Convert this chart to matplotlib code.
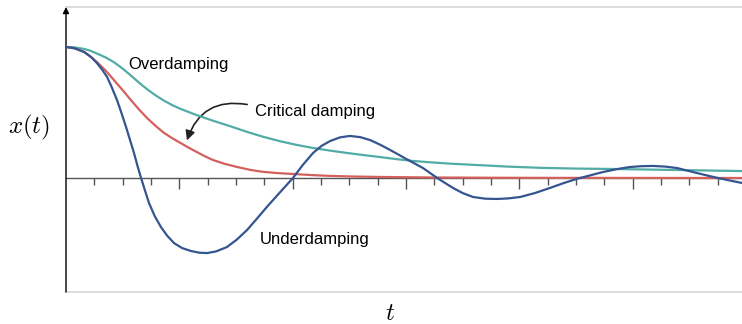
import numpy as np
import matplotlib
matplotlib.use('Agg')
import matplotlib.pyplot as plt
from matplotlib.patches import FancyArrowPatch

plt.rcParams['font.family'] = ['Liberation Sans', 'DejaVu Sans']
plt.rcParams['mathtext.fontset'] = 'cm'

# values (t in tick units, x normalised to x(0) = 1)
under_t = [0, 0.3, 0.64, 0.9, 1.09, 1.3, 1.45, 1.62, 1.80, 1.96, 2.12, 2.26, 2.40, 2.52, 2.65,
           2.79, 2.93, 3.13, 3.35, 3.57, 3.81, 4.1, 4.41, 4.7, 4.98, 5.3, 5.68, 6.03, 6.39,
           6.74, 7.09, 7.55, 8.01, 8.36, 8.72, 9.02, 9.32, 9.67, 10.02, 10.38, 10.73, 11.08,
           11.44, 11.79, 12.14, 12.6, 13.1, 13.66, 14.0, 14.37, 14.8, 15.21, 15.6, 16.03,
           16.55, 17.08, 17.55, 18.04, 18.5, 18.96, 19.45, 19.91, 20.3, 20.72, 21.15, 21.57,
           21.9, 22.27, 22.65, 23.01, 23.45, 23.86]
under_x = [1.0, 0.99, 0.962, 0.92, 0.878, 0.82, 0.771, 0.69, 0.595, 0.495, 0.389, 0.29, 0.191,
           0.095, 0.0, -0.097, -0.191, -0.29, -0.374, -0.44, -0.496, -0.535, -0.557, -0.570,
           -0.573, -0.560, -0.527, -0.47, -0.397, -0.31, -0.221, -0.11, 0.0, 0.10, 0.191,
           0.245, 0.282, 0.310, 0.321, 0.312, 0.290, 0.255, 0.214, 0.172, 0.130, 0.076, 0.0,
           -0.076, -0.115, -0.145, -0.158, -0.160, -0.156, -0.145, -0.115, -0.076, -0.04,
           -0.006, 0.02, 0.046, 0.068, 0.084, 0.090, 0.092, 0.087, 0.076, 0.058, 0.038,
           0.018, 0.0, -0.02, -0.038]

crit_t = [0, 0.3, 0.64, 0.85, 1.09, 1.4, 1.69, 2.0, 2.29, 2.57, 2.86, 3.16, 3.46, 3.76, 4.06,
          4.34, 4.62, 4.9, 5.19, 5.6, 6.04, 6.5, 6.95, 7.5, 8.15, 8.7, 9.32, 10.2, 11.08,
          12.85, 15.0, 17.08, 23.86]
crit_x = [1.0, 0.99, 0.962, 0.93, 0.885, 0.82, 0.748, 0.67, 0.595, 0.525, 0.458, 0.398, 0.344,
          0.302, 0.265, 0.23, 0.198, 0.166, 0.137, 0.108, 0.084, 0.062, 0.047, 0.037, 0.029,
          0.022, 0.016, 0.011, 0.008, 0.004, 0.002, 0.001, 0.0]

over_t = [0, 0.3, 0.64, 0.85, 1.09, 1.4, 1.69, 2.0, 2.29, 2.57, 2.86, 3.16, 3.46, 3.76, 4.06,
          4.6, 5.19, 5.8, 6.39, 6.95, 7.55, 8.13, 8.72, 9.32, 9.92, 10.5, 11.08, 11.66, 12.25,
          12.85, 13.6, 14.51, 15.6, 16.84, 18.0, 19.2, 20.4, 21.57, 22.7, 23.86]
over_x = [1.0, 0.997, 0.985, 0.972, 0.950, 0.920, 0.884, 0.835, 0.782, 0.729, 0.678, 0.631,
          0.590, 0.555, 0.526, 0.481, 0.437, 0.395, 0.352, 0.315, 0.281, 0.253, 0.229, 0.209,
          0.191, 0.175, 0.160, 0.144, 0.130, 0.120, 0.109, 0.099, 0.087, 0.077, 0.072, 0.069,
          0.065, 0.061, 0.057, 0.053]

teal = '#52aca6'
red = '#d4605e'
blue = '#34558f'

fig = plt.figure(figsize=(7.42, 3.24), dpi=100)
ax = fig.add_axes([66 / 742, 32 / 324, 676 / 742, 285 / 324])
ax.set_xlim(0, 23.86)
ax.set_ylim(-0.870, 1.305)
ax.set_xticks([])
ax.set_yticks([])
for s in ['top', 'bottom']:
    ax.spines[s].set_color('#d6d6d6')
    ax.spines[s].set_linewidth(1.2)
ax.spines['right'].set_visible(False)
ax.spines['left'].set_visible(False)

# time axis through zero with ticks hanging down
ax.axhline(0, color='#555555', lw=1.0, zorder=1)
ticks = np.arange(1, 24)
long = ticks % 4 == 0
ax.vlines(ticks[~long], -0.053, 0, color='#555555', lw=1.0, zorder=1)
ax.vlines(ticks[long], -0.084, 0, color='#555555', lw=1.0, zorder=1)

# vertical axis with arrow head
ax.annotate('', xy=(0, 1.305), xytext=(0, -0.870),
            arrowprops=dict(arrowstyle='-|>', color='black', lw=1.0,
                            mutation_scale=9, shrinkA=0, shrinkB=0),
            annotation_clip=False)

ax.plot(over_t, over_x, color=teal, lw=1.6, zorder=3, solid_joinstyle='round')
ax.plot(crit_t, crit_x, color=red, lw=1.6, zorder=3, solid_joinstyle='round')
ax.plot(under_t, under_x, color=blue, lw=1.6, zorder=4, solid_joinstyle='round')

ax.text(2.19, 0.863, 'Overdamping', fontsize=12, va='center', ha='left')
ax.text(6.67, 0.504, 'Critical damping', fontsize=12, va='center', ha='left')
ax.text(6.85, -0.466, 'Underdamping', fontsize=12, va='center', ha='left')

arr = FancyArrowPatch((6.49, 0.557), (4.24, 0.267),
                      connectionstyle='arc3,rad=0.45', arrowstyle='-|>',
                      mutation_scale=14, color='#222222', lw=1.2)
ax.add_patch(arr)

fig.text(29 / 742, 1 - 127 / 324, '$x(t)$', fontsize=18, ha='center', va='center')
fig.text(390 / 742, 1 - 313 / 324, '$t$', fontsize=18, ha='center', va='center')

fig.savefig('out.png', dpi=100)
